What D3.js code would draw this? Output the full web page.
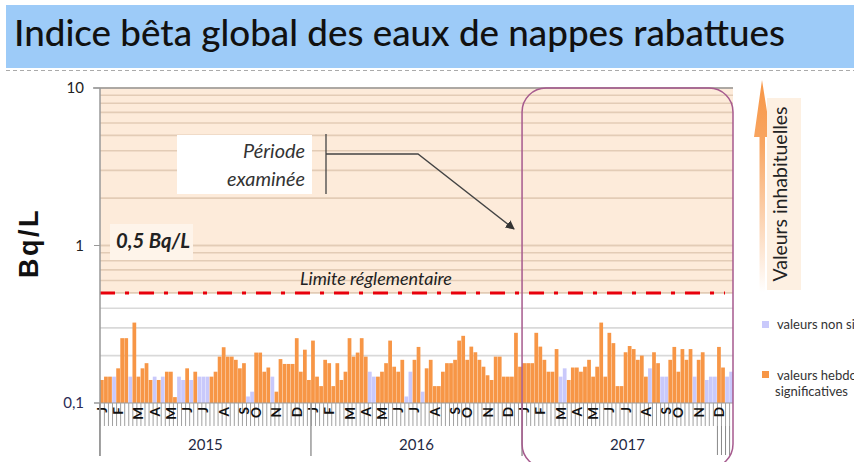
<!DOCTYPE html>
<html>
<head>
<meta charset="utf-8">
<script src="https://cdn.jsdelivr.net/npm/d3@7"></script>
<style>
  html, body { margin: 0; padding: 0; background: #fff; }
  svg { display: block; font-family: Lato, "Open Sans", sans-serif; }
</style>
</head>
<body>
<div id="chart"></div>
<script>
// ---- data (Bq/L, one value per week) ----
const years = ["2015", "2016", "2017"];
const monthLetters = ["J", "F", "M", "A", "M", "J", "J", "A", "S", "O", "N", "D"];
const monthStartWeek = [0, 4, 9, 13, 17, 21, 25, 30, 35, 38, 43, 48];

const values2015 = [0.14, 0.147, 0.147, 0.147, 0.166, 0.258, 0.258, 0.147, 0.324, 0.147, 0.166, 0.179, 0.14,
  0.147, 0.14, 0.147, 0.158, 0.158, 0.109, 0.147, 0.14, 0.166, 0.14, 0.158, 0.147, 0.147,
  0.147, 0.147, 0.158, 0.197, 0.226, 0.197, 0.197, 0.188, 0.166, 0.179, 0.11, 0.118, 0.209,
  0.209, 0.158, 0.168, 0.147, 0.118, 0.19, 0.177, 0.177, 0.177, 0.258, 0.158, 0.218, 0.14];
const signif2015 = [1, 1, 1, 0, 1, 1, 1, 0, 1, 1, 1, 1, 1,
  0, 1, 0, 1, 1, 1, 0, 0, 1, 0, 1, 0, 0,
  0, 1, 1, 1, 1, 1, 1, 1, 1, 1, 0, 0, 1,
  1, 1, 1, 0, 1, 1, 1, 1, 1, 1, 1, 1, 1];

const values2016 = [0.249, 0.147, 0.128, 0.188, 0.179, 0.128, 0.179, 0.14, 0.158, 0.258, 0.197, 0.209, 0.258,
  0.197, 0.158, 0.147, 0.147, 0.158, 0.179, 0.249, 0.17, 0.158, 0.188, 0.11, 0.158, 0.188,
  0.227, 0.118, 0.166, 0.188, 0.128, 0.128, 0.158, 0.179, 0.179, 0.188, 0.249, 0.267, 0.188,
  0.228, 0.21, 0.188, 0.17, 0.15, 0.14, 0.197, 0.197, 0.147, 0.147, 0.147, 0.279, 0.17];
const signif2016 = [1, 1, 1, 1, 1, 1, 1, 1, 1, 1, 1, 1, 1,
  1, 0, 0, 1, 1, 1, 1, 1, 1, 1, 0, 0, 1,
  1, 0, 1, 1, 1, 1, 1, 1, 1, 1, 1, 1, 1,
  1, 1, 1, 1, 1, 1, 1, 1, 1, 1, 1, 1, 1];

const values2017 = [0.179, 0.179, 0.179, 0.279, 0.228, 0.188, 0.158, 0.158, 0.22, 0.147, 0.166, 0.14, 0.168,
  0.168, 0.158, 0.17, 0.188, 0.147, 0.17, 0.324, 0.147, 0.279, 0.24, 0.128, 0.128, 0.21,
  0.23, 0.22, 0.188, 0.2, 0.147, 0.166, 0.21, 0.179, 0.147, 0.147, 0.188, 0.227, 0.158,
  0.22, 0.188, 0.22, 0.147, 0.188, 0.21, 0.14, 0.147, 0.147, 0.227, 0.168, 0.147, 0.158];
const signif2017 = [1, 1, 1, 1, 1, 1, 1, 1, 1, 0, 0, 1, 1,
  1, 1, 1, 1, 1, 1, 1, 1, 1, 1, 1, 1, 1,
  1, 1, 1, 1, 1, 0, 1, 1, 0, 0, 1, 1, 1,
  1, 1, 1, 0, 1, 1, 0, 0, 0, 1, 1, 0, 0];

const yTicks = [0.1, 1, 10];
const yTickLabels = ["0,1", "1", "10"];
const limitValue = 0.5;

// ---- setup ----
const W = 854, H = 462;
const plot = { left: 100, right: 733, top: 88, bottom: 403 };
const colOrange = "#F79646", colLavender = "#C9C9FB";

const allValues = [values2015, values2016, values2017];
const allSignif = [signif2015, signif2016, signif2017];
const weeks = years.flatMap((yr, yi) => allValues[yi].map((v, i) => ({
  id: yr + "-" + i, year: yr, week: i, value: v, sig: allSignif[yi][i] === 1
})));

const x = d3.scaleBand().domain(weeks.map(d => d.id)).range([plot.left, plot.right]).paddingInner(0.08);
const y = d3.scaleLog().domain([0.1, 10]).range([plot.bottom, plot.top]);
const step = x.step();
const edge = id => x(id) - step * x.paddingInner() / 2;

const svg = d3.select("#chart").append("svg").attr("width", W).attr("height", H);

function fitText(sel, width) {
  const fs = parseFloat(sel.attr("font-size"));
  const len = sel.node().getComputedTextLength();
  sel.attr("font-size", (fs * width / len).toFixed(2));
  return sel;
}

// title band
svg.append("rect").attr("x", 6).attr("y", 5).attr("width", W - 6).attr("height", 63).attr("fill", "#9DCBF8");
svg.append("line").attr("x1", 6).attr("x2", W).attr("y1", 70.5).attr("y2", 70.5)
  .attr("stroke", "#aaa").attr("stroke-dasharray", "4,3");
fitText(svg.append("text").attr("x", 14).attr("y", 46).attr("font-size", 32).attr("fill", "#111")
  .attr("font-weight", 500).text("Indice bêta global des eaux de nappes rabattues"), 771);

// beige "unusual values" zone above the limit
svg.append("rect").attr("x", plot.left).attr("y", y(10)).attr("width", plot.right - plot.left)
  .attr("height", y(limitValue) - y(10)).attr("fill", "#FDEBDA");

// gridlines
const minor = [];
[0.1, 1].forEach(b => d3.range(2, 11).forEach(k => minor.push(+(b * k).toFixed(2))));
minor.push(1);
svg.append("g").selectAll("line").data(minor).join("line")
  .attr("x1", plot.left).attr("x2", plot.right)
  .attr("y1", d => y(d)).attr("y2", d => y(d))
  .attr("stroke", d => d >= limitValue ? "#E3CCB6" : "#D9D9D9")
  .attr("stroke-width", 1.6);

// "0,5 Bq/L" box
svg.append("rect").attr("x", 110).attr("y", 224).attr("width", 83).attr("height", 36).attr("fill", "#FEF4EA");
fitText(svg.append("text").attr("x", 116).attr("y", 248).attr("font-size", 14)
  .attr("font-weight", "bold").attr("font-style", "italic").attr("fill", "#222").text("0,5 Bq/L"), 74);

// bars
svg.append("g").selectAll("rect").data(weeks).join("rect")
  .attr("x", d => x(d.id))
  .attr("y", d => y(d.value))
  .attr("width", x.bandwidth())
  .attr("height", d => y(0.1) - y(d.value))
  .attr("fill", d => d.sig ? colOrange : colLavender);

// regulatory limit
svg.append("line").attr("x1", plot.left).attr("x2", 725)
  .attr("y1", y(limitValue)).attr("y2", y(limitValue))
  .attr("stroke", "#E8000B").attr("stroke-width", 3).attr("stroke-dasharray", "15,10,4,10");
fitText(svg.append("text").attr("x", 300).attr("y", 285).attr("font-size", 13)
  .attr("font-style", "italic").attr("fill", "#222").text("Limite réglementaire"), 152);

// axes lines
svg.append("line").attr("x1", 93).attr("x2", plot.right).attr("y1", y(10)).attr("y2", y(10))
  .attr("stroke", "#999").attr("stroke-width", 1.5);
svg.append("line").attr("x1", plot.left).attr("x2", plot.left).attr("y1", y(10)).attr("y2", 456)
  .attr("stroke", "#999").attr("stroke-width", 1.5);
svg.append("line").attr("x1", 94).attr("x2", plot.right).attr("y1", y(0.1)).attr("y2", y(0.1))
  .attr("stroke", "#999").attr("stroke-width", 1);

// y tick labels
svg.append("g").selectAll("text").data(yTicks).join("text")
  .attr("x", 84).attr("y", d => y(d)).attr("dy", "0.35em").attr("text-anchor", "end")
  .attr("font-size", 15).attr("fill", (d, i) => i === 0 ? "#2b2b55" : "#222")
  .text((d, i) => yTickLabels[i]);
svg.append("g").selectAll("line").data(yTicks).join("line")
  .attr("x1", 94).attr("x2", plot.left).attr("y1", d => y(d)).attr("y2", d => y(d))
  .attr("stroke", "#999");

// y title
svg.append("text").attr("transform", "translate(38,243) rotate(-90)").attr("text-anchor", "middle")
  .attr("font-size", 27).attr("font-weight", "bold").attr("font-family", "Liberation Sans, Arial, sans-serif")
  .attr("letter-spacing", 2.5).attr("fill", "#111").text("Bq/L");

// week tick strip
svg.append("g").selectAll("line").data(weeks).join("line")
  .attr("x1", d => edge(d.id) + 0.5).attr("x2", d => edge(d.id) + 0.5)
  .attr("y1", plot.bottom).attr("y2", 426)
  .attr("stroke", "#a0a0a0").attr("stroke-width", 1);

// month letters
const monthData = years.flatMap(yr => monthStartWeek.map((w, m) => ({ id: yr + "-" + w, letter: monthLetters[m] })));
svg.append("g").selectAll("text").data(monthData).join("text")
  .attr("transform", d => `translate(${x(d.id) + x.bandwidth() / 2},${plot.bottom + 4}) rotate(-90)`)
  .attr("text-anchor", "end").attr("dominant-baseline", "central")
  .attr("font-size", 13.5).attr("font-weight", "bold").attr("fill", "#111")
  .text(d => d.letter);

// year separators and labels
const yearStart = years.map(yr => edge(yr + "-0"));
yearStart.push(plot.right);
svg.append("g").selectAll("line").data(yearStart.slice(0, 3)).join("line")
  .attr("x1", d => d).attr("x2", d => d).attr("y1", plot.bottom).attr("y2", 456)
  .attr("stroke", "#999").attr("stroke-width", 1.5);
svg.append("g").selectAll("line").data(weeks.slice(-4)).join("line")
  .attr("x1", d => edge(d.id) + 0.5).attr("x2", d => edge(d.id) + 0.5)
  .attr("y1", 426).attr("y2", 455).attr("stroke", "#888");
svg.append("g").selectAll("text").data(years).join("text")
  .attr("x", (d, i) => (yearStart[i] + yearStart[i + 1]) / 2).attr("y", 450)
  .attr("text-anchor", "middle").attr("font-size", 15).attr("fill", "#1F2A44")
  .text(d => d);

// examined period frame
const x17 = edge("2017-0");
svg.append("rect").attr("x", x17).attr("y", y(10)).attr("width", plot.right - x17).attr("height", 380)
  .attr("rx", 24).attr("fill", "none").attr("stroke", "#A65A8E").attr("stroke-width", 1.5);

// "Période examinée" annotation
svg.append("rect").attr("x", 177).attr("y", 135).attr("width", 135).attr("height", 59).attr("fill", "#fff");
fitText(svg.append("text").attr("x", 305).attr("y", 158).attr("text-anchor", "end").attr("font-size", 14)
  .attr("font-style", "italic").attr("fill", "#333").text("Période"), 62);
fitText(svg.append("text").attr("x", 305).attr("y", 186).attr("text-anchor", "end").attr("font-size", 14)
  .attr("font-style", "italic").attr("fill", "#333").text("examinée"), 78);
const defs = svg.append("defs");
defs.append("marker").attr("id", "arr").attr("viewBox", "0 0 10 10").attr("refX", 9).attr("refY", 5)
  .attr("markerWidth", 7).attr("markerHeight", 7).attr("orient", "auto")
  .append("path").attr("d", "M0,0 L10,5 L0,10 Z").attr("fill", "#333");
svg.append("line").attr("x1", 326).attr("x2", 326).attr("y1", 134).attr("y2", 194)
  .attr("stroke", "#444").attr("stroke-width", 1.3);
svg.append("path").attr("d", `M326,154 L418,154 L${x17 - 8},229`)
  .attr("fill", "none").attr("stroke", "#444").attr("stroke-width", 1.3).attr("marker-end", "url(#arr)");

// "Valeurs inhabituelles" arrow + label
const grad = defs.append("linearGradient").attr("id", "fade").attr("gradientUnits", "userSpaceOnUse")
  .attr("x1", 0).attr("x2", 0).attr("y1", 80).attr("y2", 292);
grad.append("stop").attr("offset", 0).attr("stop-color", colOrange).attr("stop-opacity", 1);
grad.append("stop").attr("offset", 0.3).attr("stop-color", colOrange).attr("stop-opacity", 0.85);
grad.append("stop").attr("offset", 1).attr("stop-color", colOrange).attr("stop-opacity", 0);
svg.append("path").attr("d", "M762,80 L771,137 L765,137 L765,292 L759.5,292 L759.5,137 L754,137 Z")
  .attr("fill", "url(#fade)");
svg.append("rect").attr("x", 767).attr("y", 98).attr("width", 34).attr("height", 192).attr("fill", "#FDF0E2");
fitText(svg.append("text").attr("transform", "translate(787,194) rotate(-90)").attr("text-anchor", "middle")
  .attr("font-size", 15).attr("fill", "#222").text("Valeurs inhabituelles"), 175);

// legend (cut by the page edge as in the source)
svg.append("rect").attr("x", 762).attr("y", 321).attr("width", 7).attr("height", 7).attr("fill", colLavender);
svg.append("text").attr("x", 777).attr("y", 329).attr("font-size", 13).attr("fill", "#333")
  .text("valeurs non significatives");
svg.append("rect").attr("x", 762).attr("y", 371).attr("width", 7).attr("height", 7).attr("fill", colOrange);
svg.append("text").attr("x", 777).attr("y", 380).attr("font-size", 13).attr("fill", "#333")
  .text("valeurs hebdomadaires");
svg.append("text").attr("x", 775).attr("y", 396).attr("font-size", 13).attr("fill", "#333")
  .text("significatives");
</script>
</body>
</html>
